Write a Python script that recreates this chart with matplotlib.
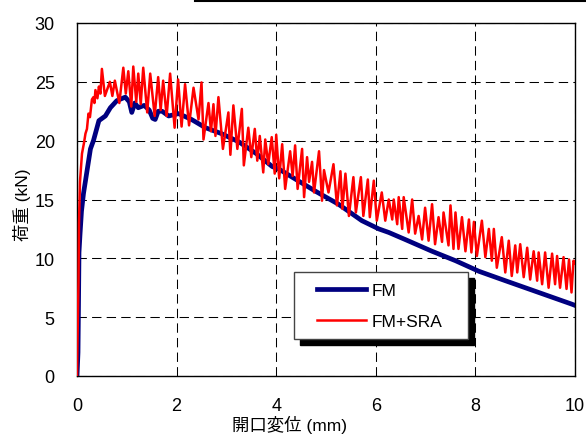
import matplotlib
matplotlib.use("Agg")
import matplotlib.pyplot as plt
from matplotlib.lines import Line2D
from matplotlib.legend_handler import HandlerLine2D

plt.rcParams['font.family'] = ['Liberation Sans', 'Noto Sans CJK JP', 'DejaVu Sans']

# ---- data ----
fm_x = [0, 0.02, 0.03, 0.04, 0.06, 0.09, 0.13, 0.20, 0.27, 0.33, 0.44, 0.57, 0.67, 0.80,
        0.97, 1.05, 1.10, 1.16, 1.23, 1.35, 1.45, 1.52, 1.57, 1.63, 1.71, 1.84, 2.04, 2.30,
        2.58, 2.90, 3.25, 3.60, 3.92, 4.05, 4.32, 4.79, 5.25, 5.72, 6.06, 6.26, 6.59, 7.13,
        7.60, 8.07, 8.60, 9.27, 9.94, 10.0]
fm_y = [0, 2.0, 6.0, 10.5, 12.0, 14.0, 15.5, 17.4, 19.3, 20.0, 21.7, 22.1, 22.8, 23.4,
        23.7, 23.3, 22.4, 23.2, 22.8, 23.0, 22.6, 21.9, 21.8, 22.5, 22.5, 22.1, 22.3, 21.8,
        21.1, 20.6, 19.9, 18.9, 17.8, 17.6, 16.9, 15.7, 14.6, 13.2, 12.5, 12.2, 11.6, 10.6,
        9.8, 8.9, 8.1, 7.1, 6.1, 6.0]

sra_x = [0, 0.01, 0.03, 0.04, 0.06, 0.10, 0.14, 0.17, 0.20, 0.23, 0.26, 0.30, 0.33, 0.35,
         0.37, 0.41, 0.44, 0.47,
         0.50, 0.56, 0.66, 0.71, 0.76, 0.85, 0.93, 0.98, 1.03, 1.09, 1.13, 1.19, 1.23, 1.28,
         1.33, 1.41, 1.47, 1.56, 1.63, 1.68, 1.73, 1.80, 1.87, 1.96, 2.03, 2.10, 2.17, 2.25,
         2.34, 2.44, 2.50, 2.54, 2.64, 2.69, 2.74, 2.78, 2.84, 2.93, 3.04, 3.08, 3.14, 3.22,
         3.31, 3.35, 3.44, 3.50, 3.57, 3.62, 3.67, 3.74, 3.78, 3.84, 3.91, 3.97,
         4.00, 4.06, 4.12, 4.18, 4.28, 4.33, 4.38, 4.43, 4.52, 4.56, 4.62, 4.66, 4.72, 4.76,
         4.86, 4.92, 4.96, 5.05, 5.15, 5.22, 5.29, 5.33, 5.39, 5.46, 5.55, 5.60, 5.70, 5.75,
         5.84, 5.88, 5.96, 6.02,
         6.12, 6.19, 6.26, 6.33, 6.36, 6.43, 6.46, 6.53, 6.56, 6.66, 6.73, 6.79, 6.86, 6.93,
         6.99, 7.06, 7.13, 7.19, 7.26, 7.33, 7.36, 7.46, 7.50, 7.56, 7.60, 7.66, 7.73, 7.80,
         7.87, 7.92, 7.97, 8.03, 8.13, 8.20, 8.27, 8.33, 8.37, 8.43, 8.53, 8.60, 8.67, 8.73,
         8.80, 8.84, 8.90, 8.97, 9.04, 9.10, 9.17, 9.24, 9.27, 9.34, 9.40, 9.47, 9.54, 9.60,
         9.64, 9.70, 9.77, 9.83, 9.88, 9.93, 9.97, 10.0]
sra_y = [0, 3.0, 8.0, 13.0, 16.5, 18.9, 19.8, 20.6, 21.0, 22.3, 22.0, 23.5, 23.7, 23.2,
         24.3, 23.6, 24.6, 24.0,
         26.1, 23.8, 25.0, 23.8, 25.1, 23.2, 26.2, 24.0, 25.9, 22.9, 26.3, 23.3, 25.7, 23.1,
         26.2, 22.4, 25.7, 22.1, 25.4, 22.6, 25.1, 22.1, 25.7, 21.1, 25.2, 21.2, 24.8, 21.3,
         24.5, 21.8, 24.95, 20.1, 23.2, 20.8, 23.1, 20.4, 23.7, 19.3, 22.4, 18.8, 23.0, 19.3,
         22.7, 17.9, 21.1, 18.6, 21.0, 18.3, 20.4, 17.3, 20.1, 18.0, 20.3, 17.2,
         20.5, 16.8, 19.7, 15.9, 19.1, 17.0, 19.6, 15.9, 19.3, 15.2, 18.6, 16.5, 18.2, 15.6,
         19.1, 14.9, 17.5, 15.6, 18.0, 14.5, 17.4, 14.2, 17.2, 13.6, 16.9, 13.9, 16.9, 13.6,
         16.7, 13.5, 16.6, 13.2,
         15.6, 13.2, 15.0, 13.3, 15.0, 12.9, 15.2, 12.5, 15.2, 12.2, 15.0, 12.1, 13.6, 11.6,
         14.3, 11.5, 14.6, 11.2, 13.5, 11.4, 13.9, 11.1, 14.5, 10.8, 13.9, 10.8, 13.5, 10.6,
         13.3, 10.5, 13.1, 10.2, 13.2, 10.1, 12.5, 9.8, 12.5, 9.2, 11.8, 8.8, 11.5, 8.5,
         11.1, 8.8, 11.2, 8.4, 10.9, 8.2, 10.6, 8.1, 10.5, 7.8, 10.5, 7.5, 10.4, 7.8,
         10.2, 7.5, 10.1, 7.4, 9.9, 7.1, 9.8, 9.6]

series_labels = ["FM", "FM+SRA"]
x_ticks = [0, 2, 4, 6, 8, 10]
y_ticks = [0, 5, 10, 15, 20, 25, 30]
x_label = "開口変位 (mm)"
y_label = "荷重 (kN)"

# ---- figure ----
W, H = 586, 435
fig = plt.figure(figsize=(W / 100, H / 100), dpi=100)
ax = fig.add_axes([77 / W, 1 - 377 / H, (575 - 77) / W, (377 - 24) / H])

ax.plot(sra_x, sra_y, color="#ff0000", lw=1.8, label=series_labels[1], zorder=3)
ax.plot(fm_x, fm_y, color="#000080", lw=3.4, label=series_labels[0], zorder=2)

ax.set_xlim(0, 10)
ax.set_ylim(0, 30)
ax.set_xticks(x_ticks)
ax.set_yticks(y_ticks)
ax.tick_params(length=0, labelsize=13)
ax.tick_params(axis='y', pad=16)
ax.tick_params(axis='x', pad=15)
ax.grid(True, color='black', lw=0.75, linestyle=(0, (9, 5)))
ax.set_axisbelow(True)
for s in ax.spines.values():
    s.set_color('black')
    s.set_linewidth(1.0)

ax.set_xlabel(x_label, fontsize=12.5)
ax.set_ylabel(y_label, fontsize=12.5)
ax.xaxis.set_label_coords((290 - 77) / 498, (377 - 416) / 353)
ax.yaxis.set_label_coords((31 - 77) / 498, (377 - 205) / 353)

h = ax.get_legend_handles_labels()
handles = [h[0][1], h[0][0]]
labels = [h[1][1], h[1][0]]
hmap = {hd: HandlerLine2D(xpad=0.75) for hd in handles}
leg = ax.legend(handles, labels, loc='lower left',
                bbox_to_anchor=((294 - 77) / 498, (377 - 340) / 353,
                                (468 - 294) / 498, (340 - 270.7) / 353),
                mode='expand', borderaxespad=0, fancybox=False,
                shadow={'color': 'black', 'alpha': 1, 'ox': 4, 'oy': -4},
                fontsize=12.5, handlelength=3.57, handletextpad=0.3,
                labelspacing=0.9, borderpad=0.6, framealpha=1,
                edgecolor='#444444', handler_map=hmap)
leg.get_frame().set_linewidth(1.0)

# stray line at the very top of the picture
fig.add_artist(Line2D([195 / W, 1], [1 - 1.5 / H, 1 - 1.5 / H], color='black', lw=1.5,
                      transform=fig.transFigure))

fig.savefig("out.png", dpi=100)
